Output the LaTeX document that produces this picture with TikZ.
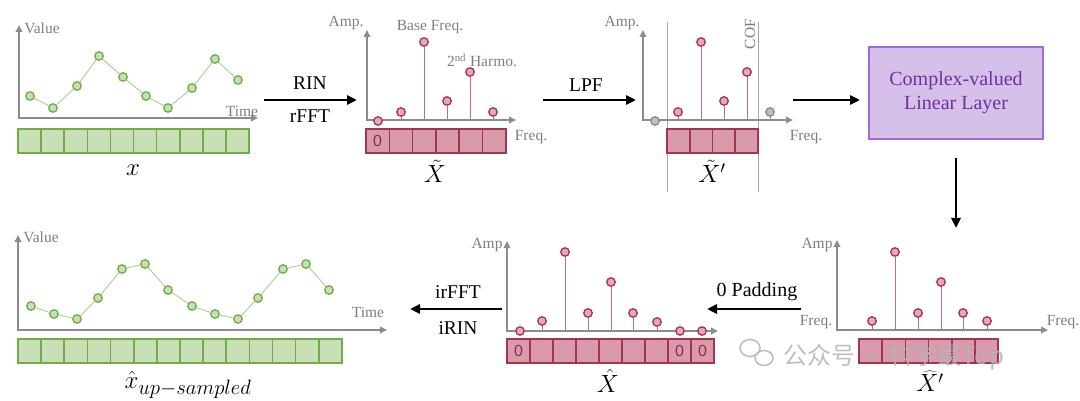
\documentclass[tikz,border=0pt]{standalone}
\usepackage{fontspec}
\setmainfont{Liberation Serif}
\newfontfamily\zerofont{Liberation Sans}
\newfontfamily\cjkfont{Noto Sans CJK SC}
\usetikzlibrary{arrows.meta}
\definecolor{axisgray}{HTML}{8C8C8C}
\definecolor{labgray}{HTML}{7F7F7F}
\definecolor{gdotdraw}{HTML}{70AD47}
\definecolor{gdotfill}{HTML}{C5E0B3}
\definecolor{glinec}{HTML}{A9D08E}
\definecolor{gbord}{HTML}{70AD47}
\definecolor{gfill}{HTML}{C9DFB5}
\definecolor{rbord}{HTML}{A3354F}
\definecolor{rfill}{HTML}{D99AAB}
\definecolor{rdotfill}{HTML}{E8A6B6}
\definecolor{stemc}{HTML}{C46B85}
\definecolor{zeroc}{HTML}{8E2C48}
\definecolor{boxfill}{HTML}{D5C0EA}
\definecolor{boxbord}{HTML}{A36AD5}
\definecolor{boxtext}{HTML}{7030A0}
\definecolor{cofline}{HTML}{A6A6A6}
\definecolor{wmark}{HTML}{B4B4B4}
\begin{document}
\begin{tikzpicture}[x=1pt,y=-1pt,
  axis/.style={draw=axisgray, line width=1.8pt, {Triangle[length=7pt,width=6.5pt]}-{Triangle[length=7pt,width=6.5pt]}},
  axlabel/.style={text=labgray, font=\fontsize{15.5}{15.5}\selectfont, inner sep=0pt},
  gdot/.style={circle, draw=gdotdraw, fill=gdotfill, line width=1.3pt, minimum size=8.5pt, inner sep=0pt},
  gline/.style={draw=glinec, line width=0.9pt},
  gcell/.style={rectangle, draw=gbord, fill=gfill, line width=1.6pt, minimum height=24pt, inner sep=0pt},
  rdot/.style={circle, draw=rbord, fill=rdotfill, line width=1.3pt, minimum size=8.5pt, inner sep=0pt},
  graydot/.style={circle, draw=axisgray, fill=black!25, line width=1.3pt, minimum size=8.5pt, inner sep=0pt},
  stem/.style={draw=stemc, line width=0.9pt},
  rcell/.style={rectangle, draw=rbord, fill=rfill, line width=1.6pt, minimum height=24pt, inner sep=0pt, text=zeroc, font=\zerofont\fontsize{16}{16}\selectfont},
  flow/.style={-{Triangle[length=10pt,width=9pt]}, line width=2.6pt},
  flowlabel/.style={font=\fontsize{19.5}{19.5}\selectfont, inner sep=0pt},
  mathlabel/.style={font=\fontsize{24}{24}\selectfont, inner sep=0pt},
  cof/.style={draw=cofline, line width=0.6pt}
]
\useasboundingbox (0,0) rectangle (1080,401);
\fill[white] (0,0) rectangle (1080,401);

% ===== Panel A: input series =====
\coordinate (oa) at (19,118);
\coordinate (ya) at (19,25);
\coordinate (xa) at (258,118);
\draw[axis] (ya) -- (oa) -- (xa);
\node[axlabel] (va) at (42,28) {Value};
\node[axlabel] (ta) at (242,111) {Time};
\foreach \x/\y [count=\i] in {30/96,53/108,77/86,99/56,123/77,146/96,168/108,192/88,215/59,238/80}
  \node[gdot] (pa\i) at (\x,\y) {};
\foreach \i [remember=\i as \j (initially 1)] in {2,...,10}
  \draw[gline] (pa\j) -- (pa\i);
\foreach \i in {1,...,10}
  \node[gcell, minimum width=23.1pt] (ca\i) at ({18+23.1*(\i-0.5)},141) {};
\node[mathlabel, font=\fontsize{26}{26}\selectfont] (lx) at (133,170) {$x$};

% ===== Panel B: spectrum =====
\coordinate (ob) at (367,120);
\coordinate (yb) at (367,30);
\coordinate (xb) at (516,120);
\draw[axis] (yb) -- (ob) -- (xb);
\node[axlabel] (ab) at (346,23) {Amp.};
\node[axlabel] (fb) at (531,137) {Freq.};
\node[axlabel] (bf) at (430,27) {Base Freq.};
\node[axlabel] (hb) at (482,60) {2\textsuperscript{nd} Harmo.};
\foreach \x/\y [count=\i] in {378/121,401/112,424/42,447/101,470/72,493/112}
  \node[rdot] (pb\i) at (\x,\y) {};
\foreach \i in {2,...,6}
  \draw[stem] (pb\i.south) -- (pb\i |- ob);
\node[rcell, minimum width=23.3pt] (cb1) at ({366+23.3*0.5},141) {0};
\foreach \i in {2,...,6}
  \node[rcell, minimum width=23.3pt] (cb\i) at ({366+23.3*(\i-0.5)},141) {};
\node[mathlabel] (lb) at (435,171) {$\tilde{X}$};

% ===== Panel C: low-pass filtered =====
\coordinate (lc1t) at (667,22);
\coordinate (lc1b) at (667,192);
\coordinate (lc2t) at (758,22);
\coordinate (lc2b) at (758,192);
\draw[cof] (lc1t) -- (lc1b);
\draw[cof] (lc2t) -- (lc2b);
\coordinate (oc) at (643,120);
\coordinate (yc) at (643,30);
\coordinate (xc) at (793,120);
\draw[axis] (yc) -- (oc) -- (xc);
\node[axlabel] (ac) at (622,23) {Amp.};
\node[axlabel] (fc) at (806,137) {Freq.};
\node[axlabel, rotate=90] (cofl) at (750,34) {COF};
\node[graydot] (gc1) at (655,121) {};
\node[graydot] (gc2) at (770,112) {};
\draw[draw=axisgray, line width=0.9pt] (gc2.south) -- (gc2 |- oc);
\foreach \x/\y [count=\i] in {678/112,701/42,724/101,747/72}
  \node[rdot] (pc\i) at (\x,\y) {};
\foreach \i in {1,...,4}
  \draw[stem] (pc\i.south) -- (pc\i |- oc);
\foreach \i in {1,...,4}
  \node[rcell, minimum width=22.75pt] (cc\i) at ({667+22.75*(\i-0.5)},141) {};
\node[mathlabel] (lc) at (712,171) {$\tilde{X}'$};

% ===== Complex-valued linear layer =====
\node[rectangle, draw=boxbord, fill=boxfill, line width=1.4pt, minimum width=174pt, minimum height=92pt,
      text=boxtext, align=center, font=\fontsize{20}{24}\selectfont] (cl) at (956,93) {Complex-valued\\Linear Layer};

% ===== Panel D: after linear layer =====
\coordinate (od) at (837,330);
\coordinate (yd) at (837,240);
\coordinate (xd) at (1048,330);
\draw[axis] (yd) -- (od) -- (xd);
\node[axlabel] (ad) at (817,245) {Amp};
\node[axlabel] (fdl) at (816,322) {Freq.};
\node[axlabel] (fdr) at (1063,322) {Freq.};
\foreach \x/\y [count=\i] in {872/321,895/252,918/313,941/282,963/313,987/321}
  \node[rdot] (pd\i) at (\x,\y) {};
\foreach \i in {1,...,6}
  \draw[stem] (pd\i.south) -- (pd\i |- od);
\foreach \i in {1,...,6}
  \node[rcell, minimum width=23.2pt] (cd\i) at ({859+23.2*(\i-0.5)},351) {};
\node[mathlabel] (ld) at (930,381) {$\widehat{X'}$};

% ===== Panel E: zero padded =====
\coordinate (oe) at (507,331);
\coordinate (ye) at (507,241);
\coordinate (xe) at (718,331);
\draw[axis] (ye) -- (oe) -- (xe);
\node[axlabel] (ae) at (487,245) {Amp};
\foreach \x/\y [count=\i] in {520/331,542/321,565/252,588/313,611/282,633/313,657/322,680/331,702/331}
  \node[rdot] (pe\i) at (\x,\y) {};
\foreach \i in {2,...,7}
  \draw[stem] (pe\i.south) -- (pe\i |- oe);
\foreach \i/\t in {1/0,2/,3/,4/,5/,6/,7/,8/0,9/0}
  \node[rcell, minimum width=23pt] (ce\i) at ({507+23*(\i-0.5)},351) {\t};
\node[mathlabel] (le) at (608,381) {$\hat{X}$};

% ===== Panel F: up-sampled output =====
\coordinate (of) at (18,330);
\coordinate (yf) at (18,235);
\coordinate (xf) at (387,330);
\draw[axis] (yf) -- (of) -- (xf);
\node[axlabel] (vf) at (41,237) {Value};
\node[axlabel] (tf) at (368,312) {Time};
\foreach \x/\y [count=\i] in {31/306,54/314,77/319,98/298,122/269,145/264,168/290,192/306,215/314,238/319,258/298,283/269,306/264,329/290}
  \node[gdot] (pf\i) at (\x,\y) {};
\foreach \i [remember=\i as \j (initially 1)] in {2,...,14}
  \draw[gline] (pf\j) -- (pf\i);
\foreach \i in {1,...,14}
  \node[gcell, minimum width=23.14pt] (cf\i) at ({18+23.14*(\i-0.5)},351) {};
\node[mathlabel, font=\fontsize{30}{30}\selectfont] (lf) at (188,385) {$\hat{x}_{up-sampled}$};

% ===== Flow arrows =====
\coordinate (f1s) at (264,100); \coordinate (f1e) at (357,100);
\coordinate (f2s) at (543,100); \coordinate (f2e) at (636,100);
\coordinate (f3s) at (793,100); \coordinate (f3e) at (860,100);
\coordinate (f4s) at (956,158); \coordinate (f4e) at (956,228);
\coordinate (f5s) at (801,309); \coordinate (f5e) at (707,309);
\coordinate (f6s) at (502,309); \coordinate (f6e) at (410,309);
\draw[flow] (f1s) -- (f1e);
\node[flowlabel] (rin) at (310,83) {RIN};
\node[flowlabel] (rfft) at (310,116) {rFFT};
\draw[flow] (f2s) -- (f2e);
\node[flowlabel] (lpf) at (586,85) {LPF};
\draw[flow] (f3s) -- (f3e);
\draw[flow] (f4s) -- (f4e);
\draw[flow] (f5s) -- (f5e);
\node[flowlabel, font=\fontsize{20}{20}\selectfont] (pad) at (757,292) {0 Padding};
\draw[flow] (f6s) -- (f6e);
\node[flowlabel] (irfft) at (458,292) {irFFT};
\node[flowlabel] (irin) at (458,328) {iRIN};

% ===== Watermark =====
\begin{scope}[opacity=0.85]
\draw[wmark, line width=1.6pt, fill=white, fill opacity=0.5] (750,348) ellipse [x radius=10pt, y radius=8.5pt];
\draw[wmark, line width=1.6pt, fill=white, fill opacity=0.5] (764,358) ellipse [x radius=9pt, y radius=7.5pt];
\node[text=wmark, font=\cjkfont\fontsize{24}{24}\selectfont, inner sep=0pt, anchor=west] (wm) at (783,357) {公众号 · 科学最Top};
\end{scope}
\end{tikzpicture}
\end{document}
